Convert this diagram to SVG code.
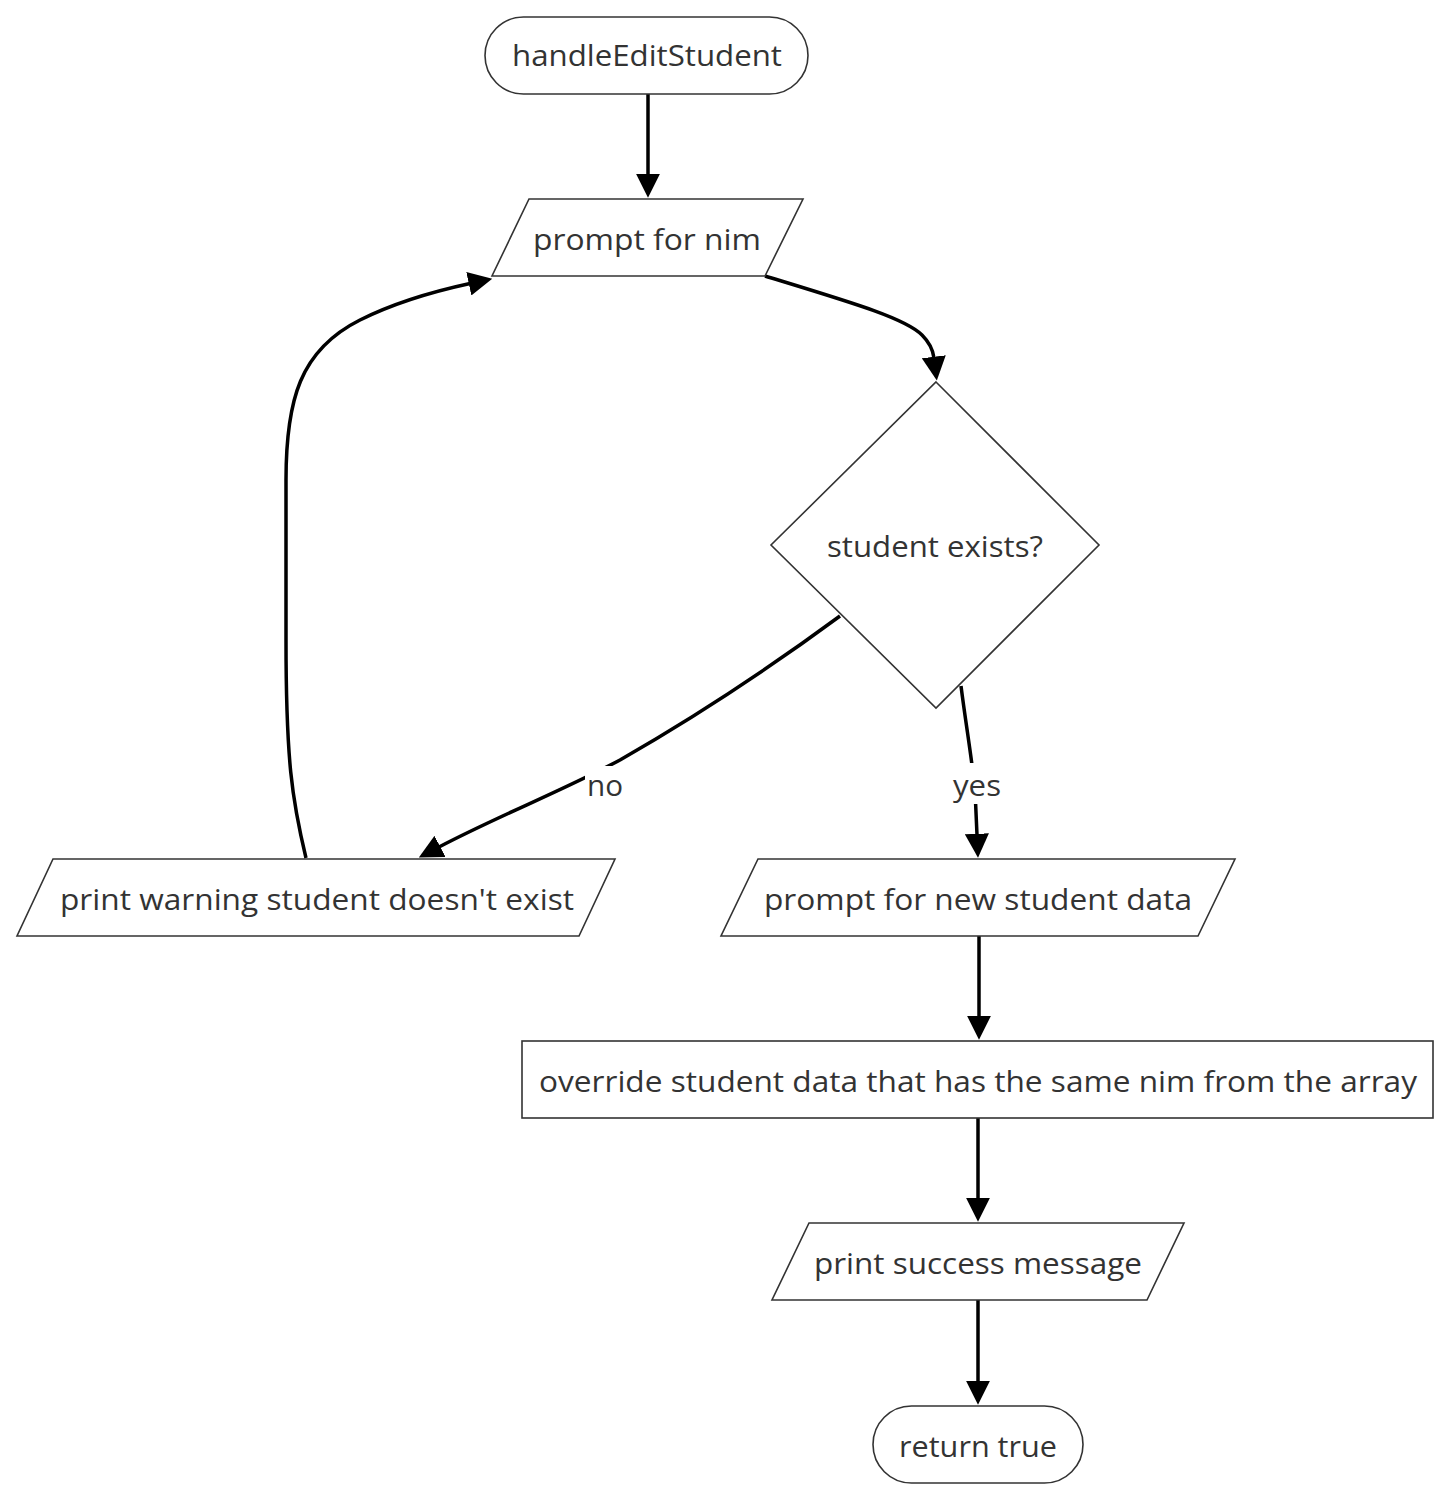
<svg xmlns="http://www.w3.org/2000/svg" width="1450" height="1500" viewBox="0 0 1450 1500">
<defs>
<style>
.node{fill:#ffffff;stroke:#333333;stroke-width:1.6}
.t{font-family:"Open Sans","Noto Sans","Liberation Sans",sans-serif;font-size:29px;fill:#333333;text-anchor:middle}
.edge{fill:none;stroke:#000000;stroke-width:3.5}
.lbl{fill:#ffffff;stroke:none}
</style>
<marker id="ah" viewBox="0 0 10 10" refX="0.5" refY="5" markerWidth="24" markerHeight="24" markerUnits="userSpaceOnUse" orient="auto">
<path d="M0,0 L10,5 L0,10 z" fill="#000000"/>
</marker>
</defs>
<rect width="1450" height="1500" fill="#ffffff"/>
<g id="connectors">
<path class="edge" d="M648,94 L648,175" marker-end="url(#ah)"/>
<path class="edge" d="M765,276 C850,302 905,318 922,335 C930,343 933,350 934,358" marker-end="url(#ah)"/>
<path class="edge" d="M840,616 C760,675 690,720 620,760 C560,792 500,815 439,847" marker-end="url(#ah)"/>
<path class="edge" d="M961,686 C966,725 972,760 975,790 L977,835" marker-end="url(#ah)"/>
<path class="edge" d="M306,858 C292,800 286,760 286,640 L286,480 C286,400 300,350 360,320 C400,300 440,290 470,283.5" marker-end="url(#ah)"/>
<path class="edge" d="M979,936 L979,1017" marker-end="url(#ah)"/>
<path class="edge" d="M978,1118 L978,1199" marker-end="url(#ah)"/>
<path class="edge" d="M978,1300 L978,1382" marker-end="url(#ah)"/>
<g id="label-no"><rect class="lbl" x="585" y="766" width="40" height="36"/><text class="t" x="605" y="796" textLength="36" lengthAdjust="spacingAndGlyphs">no</text></g>
<g id="label-yes"><rect class="lbl" x="951" y="763" width="52" height="41"/><text class="t" x="977" y="796" textLength="48" lengthAdjust="spacingAndGlyphs">yes</text></g>
</g>
<g id="start">
<rect class="node" x="485" y="17" width="323" height="77" rx="38.5" ry="38.5"/>
<text class="t" x="647" y="66" textLength="270" lengthAdjust="spacingAndGlyphs">handleEditStudent</text>
</g>
<g id="prompt-nim">
<polygon class="node" points="529,199 803,199 765,276 492,276"/>
<text class="t" x="647" y="250" textLength="228" lengthAdjust="spacingAndGlyphs">prompt for nim</text>
</g>
<g id="decision">
<polygon class="node" points="936,382 1099,545 936,708 771,545"/>
<text class="t" x="935" y="557" textLength="216" lengthAdjust="spacingAndGlyphs">student exists?</text>
</g>
<g id="print-warning">
<polygon class="node" points="53,859 615,859 579,936 17,936"/>
<text class="t" x="317" y="910" textLength="514" lengthAdjust="spacingAndGlyphs">print warning student doesn't exist</text>
</g>
<g id="prompt-new">
<polygon class="node" points="758,859 1235,859 1198,936 721,936"/>
<text class="t" x="978" y="910" textLength="428" lengthAdjust="spacingAndGlyphs">prompt for new student data</text>
</g>
<g id="override">
<rect class="node" x="522" y="1041" width="911" height="77"/>
<text class="t" x="978" y="1092" textLength="878" lengthAdjust="spacingAndGlyphs">override student data that has the same nim from the array</text>
</g>
<g id="print-success">
<polygon class="node" points="809,1223 1184,1223 1147,1300 772,1300"/>
<text class="t" x="978" y="1274" textLength="328" lengthAdjust="spacingAndGlyphs">print success message</text>
</g>
<g id="end">
<rect class="node" x="873" y="1406" width="210" height="77" rx="38.5" ry="38.5"/>
<text class="t" x="978" y="1457" textLength="158" lengthAdjust="spacingAndGlyphs">return true</text>
</g>
</svg>
